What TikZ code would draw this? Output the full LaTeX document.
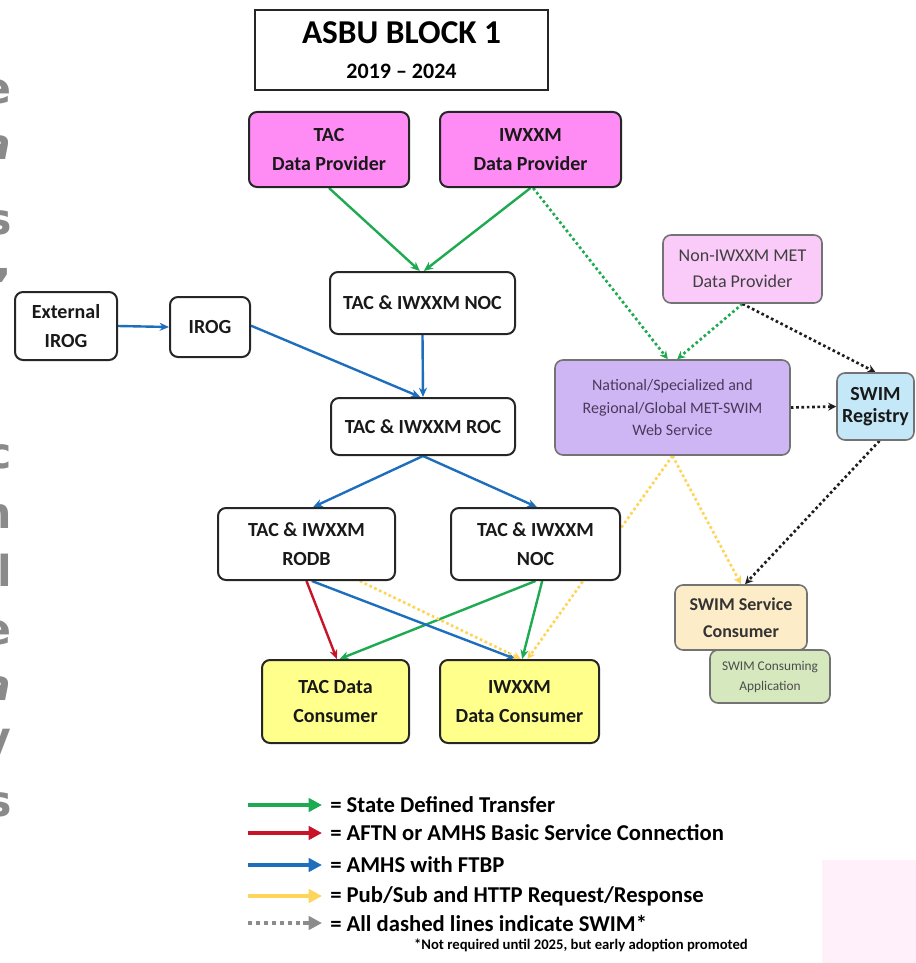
\documentclass[tikz,border=0pt]{standalone}
\usepackage{fontspec}
\setmainfont{Carlito}
\newfontfamily\sidefont{DejaVu Sans}
\usepackage{tikz}
\usetikzlibrary{arrows.meta,backgrounds}

\definecolor{provpink}{RGB}{255,140,245}
\definecolor{metpink}{RGB}{250,202,248}
\definecolor{svcpurple}{RGB}{206,182,245}
\definecolor{regblue}{RGB}{196,232,248}
\definecolor{consyellow}{RGB}{255,255,140}
\definecolor{swimbeige}{RGB}{253,236,200}
\definecolor{appgreen}{RGB}{214,232,190}
\definecolor{sdtgreen}{RGB}{30,170,80}
\definecolor{aftnred}{RGB}{200,20,40}
\definecolor{ftbpblue}{RGB}{30,110,190}
\definecolor{pubyellow}{RGB}{255,212,90}
\definecolor{swimblack}{RGB}{30,30,30}
\definecolor{legendgrey}{RGB}{140,140,140}
\definecolor{sidegrey}{RGB}{138,138,138}
\definecolor{cornerpink}{RGB}{255,240,250}

\begin{document}
\begin{tikzpicture}[x=0.75pt,y=-0.75pt,
    box/.style={draw=black!85, line width=1.5pt, rounded corners=6pt, fill=white,
        align=center, inner sep=0pt, text=black!90,
        font=\fontsize{15}{22}\selectfont\bfseries},
    swimbox/.style={box, draw=black!55, line width=1.2pt},
    flow/.style={line width=1.8pt, -{Stealth[length=7pt,width=6pt]}},
    swimflow/.style={line width=2pt, dash pattern=on 2pt off 2pt,
        -{Stealth[length=6pt,width=6pt]}},
    legendarrow/.style={line width=3.5pt, -{Triangle[length=10pt,width=10pt]}},
    legendtext/.style={anchor=west, inner sep=0pt, font=\fontsize{17}{20}\selectfont\bfseries},
    sideletter/.style={anchor=base east, inner sep=0pt, text=sidegrey,
        font=\sidefont\fontsize{32}{36}\selectfont\bfseries}]

    \useasboundingbox (0,0) rectangle (916,963);
    \fill[cornerpink] (822,860) rectangle (916,963);

    % cut-off text on the left edge
    \foreach \y/\ch in {104/e, 160/\textit{a}, 234/s, 276/{,},
                        468/c, 528/n, 586/l, 644/e, 700/\textit{a}, 752/y, 816/s}
        \node[sideletter] (side\y) at (12,\y) {\ch};

    % title
    \node[draw=black!85, line width=1.2pt, minimum width=219.75pt, minimum height=60pt,
          align=center, inner sep=0pt, font=\fontsize{16.5}{26}\selectfont\bfseries] (title)
          at (401.5,50) {{\fontsize{25}{26}\selectfont ASBU BLOCK 1}\\2019 -- 2024};

    % providers
    \node[box, fill=provpink, minimum width=120pt, minimum height=56.25pt] (tacprov)
          at (329,149.5) {TAC\\Data Provider};
    \node[box, fill=provpink, minimum width=135.75pt, minimum height=56.25pt] (iwxprov)
          at (530.5,149.5) {IWXXM\\Data Provider};

    % centres
    \node[box, minimum width=138.75pt, minimum height=46.5pt] (noc) at (422.5,303) {TAC \& IWXXM NOC};
    \node[box, minimum width=138pt, minimum height=42.75pt] (roc) at (423,426.5) {TAC \& IWXXM ROC};
    \node[box, minimum width=76.5pt, minimum height=51pt] (extirog) at (66,326) {External\\IROG};
    \node[box, minimum width=60pt, minimum height=45pt] (irog) at (210,327) {IROG};
    \node[box, minimum width=132.75pt, minimum height=54pt] (rodb) at (306.5,544) {TAC \& IWXXM\\RODB};
    \node[box, minimum width=126.75pt, minimum height=54pt] (noctwo) at (535.5,544) {TAC \& IWXXM\\NOC};

    % consumers
    \node[box, fill=consyellow, minimum width=110.25pt, minimum height=62.25pt] (taccons)
          at (335.5,701.5) {TAC Data\\Consumer};
    \node[box, fill=consyellow, minimum width=119.25pt, minimum height=62.25pt] (iwxcons)
          at (519.5,701.5) {IWXXM\\Data Consumer};

    % SWIM side
    \node[swimbox, fill=svcpurple, minimum width=176.25pt, minimum height=71.25pt, text={rgb,255:red,74;green,58;blue,90},
          font=\fontsize{12}{17}\selectfont] (websvc)
          at (672.5,407.5) {National/Specialized and\\Regional/Global MET-SWIM\\Web Service};
    \node[swimbox, fill=metpink, minimum width=119.25pt, minimum height=51pt, text=black!75,
          font=\fontsize{13.5}{19.5}\selectfont] (nonmet)
          at (742.5,269) {Non-IWXXM MET\\Data Provider};
    \node[swimbox, fill=regblue, minimum width=57.75pt, minimum height=50.25pt,
          font=\fontsize{15}{17}\selectfont\bfseries] (registry)
          at (875.5,406.5) {SWIM\\Registry};
    \node[swimbox, fill=appgreen, minimum width=90pt, minimum height=39.75pt, text=black!70,
          font=\fontsize{10}{15}\selectfont] (swimapp)
          at (770,676.5) {SWIM Consuming\\Application};
    \node[swimbox, fill=swimbeige, minimum width=99pt, minimum height=48.75pt, text=black!80,
          font=\fontsize{13.5}{20}\selectfont\bfseries] (swimcons)
          at (741,617.5) {SWIM Service\\Consumer};

    \begin{scope}[on background layer]
        % state defined transfer
        \draw[flow, sdtgreen] (tacprov.south) -- ([xshift=-2pt]noc.north);
        \draw[flow, sdtgreen] (iwxprov.south) -- ([xshift=1pt]noc.north);
        \draw[flow, sdtgreen] (noctwo.south) -- ([xshift=3pt]taccons.north);
        \draw[flow, sdtgreen] ([xshift=5pt]noctwo.south) -- ([xshift=2pt]iwxcons.north);
        % AMHS with FTBP
        \draw[flow, ftbpblue] (extirog.east) -- (irog.west);
        \draw[flow, ftbpblue] ([yshift=1pt]irog.east) -- ([xshift=-2pt]roc.north);
        \draw[flow, ftbpblue] (noc.south) -- (roc.north);
        \draw[flow, ftbpblue] (roc.south) -- ([xshift=5pt]rodb.north);
        \draw[flow, ftbpblue] (roc.south) -- ([xshift=1pt]noctwo.north);
        \draw[flow, ftbpblue] ([xshift=4pt]rodb.south) -- ([xshift=-3pt]iwxcons.north);
        % AFTN
        \draw[flow, aftnred] (rodb.south) -- ([xshift=1pt]taccons.north);
        % pub/sub
        \draw[swimflow, pubyellow] ([xshift=40pt]rodb.south) -- ([xshift=1pt]iwxcons.north);
        \draw[swimflow, pubyellow] (websvc.south) -- ([xshift=6pt]iwxcons.north);
        \draw[swimflow, pubyellow] (websvc.south) -- (swimcons.north);
        % SWIM
        \draw[swimflow, sdtgreen] ([xshift=2pt]iwxprov.south) -- ([xshift=-3.5pt]websvc.north);
        \draw[swimflow, sdtgreen] (nonmet.south) -- ([xshift=3.5pt]websvc.north);
        \draw[swimflow, swimblack] (nonmet.south) -- (registry.north);
        \draw[swimflow, swimblack] (websvc.east) -- (registry.west);
        \draw[swimflow, swimblack] ([xshift=3pt]registry.south) -- ([xshift=3pt]swimcons.north);
    \end{scope}

    % legend
    \foreach \y/\col/\txt in {805/sdtgreen/{State Defined Transfer},
                              833/aftnred/{AFTN or AMHS Basic Service Connection},
                              865/ftbpblue/{AMHS with FTBP},
                              896/pubyellow/{Pub/Sub and HTTP Request/Response}} {
        \coordinate (key\y) at (248,\y);
        \coordinate (keyend\y) at (322,\y);
        \draw[legendarrow, \col] (key\y) -- (keyend\y);
        \node[legendtext] (label\y) at (330,\y) {= \txt};
    }
    \coordinate (key923) at (248,923);
    \coordinate (keymid923) at (303,923);
    \coordinate (keyend923) at (322,923);
    \draw[legendgrey, line width=3pt, dash pattern=on 3pt off 3pt] (key923) -- (keymid923);
    \draw[legendarrow, legendgrey] (keymid923) -- (keyend923);
    \node[legendtext] (label923) at (330,923) {= All dashed lines indicate SWIM*};
    \node[anchor=east, inner sep=0pt, font=\fontsize{11}{13}\selectfont\bfseries] (footnote)
          at (748,945) {*Not required until 2025, but early adoption promoted};
\end{tikzpicture}
\end{document}
